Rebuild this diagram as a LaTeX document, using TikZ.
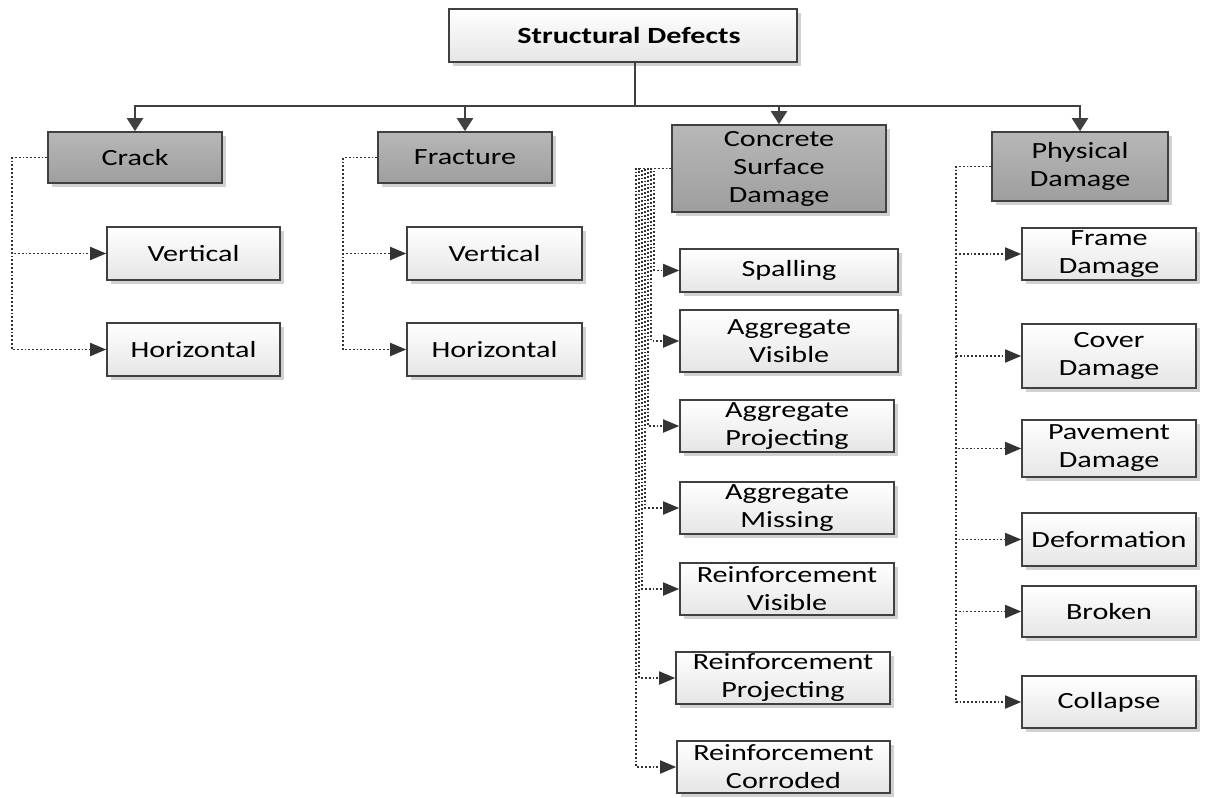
\documentclass[tikz,border=0pt]{standalone}
\usepackage{fontspec}
\setmainfont{Carlito}[FakeStretch=1.3]
\usetikzlibrary{arrows.meta,shadows}

\begin{document}
\begin{tikzpicture}[x=0.5pt,y=-0.5pt,
  box/.style={draw=black!75, line width=0.8pt, align=center, inner sep=1pt,
    font=\fontsize{11.6}{14}\selectfont,
    drop shadow={shadow xshift=2pt, shadow yshift=-2pt, fill=black!18, opacity=1}},
  rootbox/.style={box, top color=white, bottom color=black!10, font=\bfseries\fontsize{11.6}{14}\selectfont},
  groupbox/.style={box, top color=black!28, bottom color=black!38},
  itembox/.style={box, top color=white, bottom color=black!10},
  link/.style={draw=black!75, line width=1pt, -{Triangle[length=6.5pt,width=8pt]}},
  dotlink/.style={draw=black!80, line width=0.9pt, dash pattern=on 0.9pt off 1pt,
    -{Triangle[length=8pt,width=6.5pt]}}
]
\useasboundingbox (0,0) rectangle (1213,797);

% top of the tree
\node[rootbox, minimum width=174pt, minimum height=26.5pt] (root) at (623,35.5) {\hspace*{6pt}Structural Defects};
\coordinate (bus) at (635,106);

% defect groups
\node[groupbox, minimum width=87pt, minimum height=25.5pt] (crack) at (135,157.5) {Crack};
\node[groupbox, minimum width=87pt, minimum height=25.5pt] (fracture) at (465,157.5) {Fracture};
\node[groupbox, minimum width=107pt, minimum height=43.5pt] (surface) at (779,168.5) {Concrete\\Surface\\Damage};
\node[groupbox, minimum width=88pt, minimum height=34.5pt] (physical) at (1080,166.5) {Physical\\Damage};

\draw[draw=black!75, line width=1pt] (root.south -| bus) -- (bus);
\draw[link] (bus) -| (crack.north);
\draw[link] (bus) -| (fracture.north);
\draw[link] (bus) -| (surface.north);
\draw[link] (bus) -| (physical.north);

% crack
\node[itembox, minimum width=86.5pt, minimum height=26.5pt] (crackV) at (193.5,253.5) {Vertical};
\node[itembox, minimum width=86.5pt, minimum height=26.5pt] (crackH) at (193.5,349.5) {Horizontal};
\draw[dotlink] (crack.west) -- ++(-35,0) |- (crackV.west);
\draw[dotlink] (crack.west) -- ++(-35,0) |- (crackH.west);

% fracture
\node[itembox, minimum width=87.5pt, minimum height=26.5pt] (fracV) at (494.5,253.5) {Vertical};
\node[itembox, minimum width=87.5pt, minimum height=26.5pt] (fracH) at (494.5,349.5) {Horizontal};
\draw[dotlink] (fracture.west) -- ++(-34,0) |- (fracV.west);
\draw[dotlink] (fracture.west) -- ++(-34,0) |- (fracH.west);

% concrete surface damage
\node[itembox, minimum width=109pt, minimum height=21.5pt] (spall) at (789,270.5) {Spalling};
\node[itembox, minimum width=109pt, minimum height=31pt] (aggVis) at (789,341) {Aggregate\\Visible};
\node[itembox, minimum width=107pt, minimum height=26pt] (aggProj) at (787,426) {Aggregate\\Projecting};
\node[itembox, minimum width=107pt, minimum height=26pt] (aggMiss) at (787,508) {Aggregate\\Missing};
\node[itembox, minimum width=107pt, minimum height=26pt] (reVis) at (787,589) {Reinforcement\\Visible};
\node[itembox, minimum width=107pt, minimum height=26pt] (reProj) at (783,678) {Reinforcement\\Projecting};
\node[itembox, minimum width=106.5pt, minimum height=26pt] (reCorr) at (783.5,767) {Reinforcement\\Corroded};
\draw[dotlink] (surface.west) -- ++(-17,0) |- (spall.west);
\draw[dotlink] (surface.west) -- ++(-20,0) |- (aggVis.west);
\draw[dotlink] (surface.west) -- ++(-23,0) |- (aggProj.west);
\draw[dotlink] (surface.west) -- ++(-26,0) |- (aggMiss.west);
\draw[dotlink] (surface.west) -- ++(-29,0) |- (reVis.west);
\draw[dotlink] (surface.west) -- ++(-32,0) |- (reProj.west);
\draw[dotlink] (surface.west) -- ++(-35,0) |- (reCorr.west);

% physical damage
\node[itembox, minimum width=87pt, minimum height=26pt] (frame) at (1109,254) {Frame\\Damage};
\node[itembox, minimum width=87pt, minimum height=32pt] (cover) at (1109,356) {Cover\\Damage};
\node[itembox, minimum width=87pt, minimum height=28.5pt] (pave) at (1109,448.5) {Pavement\\Damage};
\node[itembox, minimum width=87pt, minimum height=26.5pt] (deform) at (1109,539.5) {Deformation};
\node[itembox, minimum width=87pt, minimum height=25.5pt] (broken) at (1109,611.5) {Broken};
\node[itembox, minimum width=87pt, minimum height=26pt] (collapse) at (1109,702) {Collapse};
\draw[dotlink] (physical.west) -- ++(-35,0) |- (frame.west);
\draw[dotlink] (physical.west) -- ++(-35,0) |- (cover.west);
\draw[dotlink] (physical.west) -- ++(-35,0) |- (pave.west);
\draw[dotlink] (physical.west) -- ++(-35,0) |- (deform.west);
\draw[dotlink] (physical.west) -- ++(-35,0) |- (broken.west);
\draw[dotlink] (physical.west) -- ++(-35,0) |- (collapse.west);
\end{tikzpicture}
\end{document}
